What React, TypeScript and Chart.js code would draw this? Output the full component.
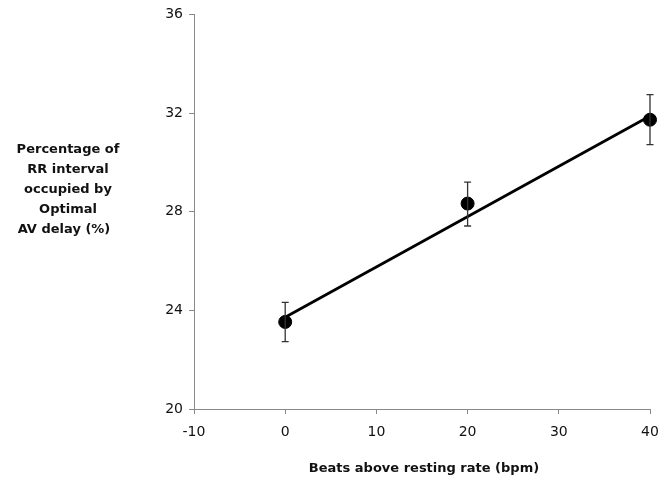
import React, { useEffect, useRef } from "react";
import { Chart, registerables } from "chart.js";

Chart.register(...registerables);

// Data
const beatsAbove = [0, 20, 40];
const pctMeans = [23.53, 28.33, 31.73];
const errLow = [22.73, 27.42, 30.72];
const errHigh = [24.32, 29.2, 32.75];
const trendX = [0, 40];
const trendY = [23.72, 31.88];

const xTicksMin = -10;
const xTicksMax = 40;
const yTicksMin = 20;
const yTicksMax = 36;

const yTitleLines = ["Percentage of", "RR interval", "occupied by", "Optimal", "AV delay (%)"];
const xTitle = "Beats above resting rate (bpm)";

const FONT = "'DejaVu Sans', Verdana, sans-serif";

export default function App() {
  const ref = useRef<HTMLCanvasElement | null>(null);

  useEffect(() => {
    if (!ref.current) return;

    const errorBars = {
      id: "errorBars",
      afterDatasetsDraw(chart: any) {
        const { ctx, scales } = chart;
        const xs = scales.x;
        const ys = scales.y;
        ctx.save();
        ctx.strokeStyle = "#333";
        ctx.lineWidth = 1.3;
        beatsAbove.forEach((xv, i) => {
          const px = xs.getPixelForValue(xv);
          const top = ys.getPixelForValue(errHigh[i]);
          const bot = ys.getPixelForValue(errLow[i]);
          ctx.beginPath();
          ctx.moveTo(px, top);
          ctx.lineTo(px, bot);
          ctx.moveTo(px - 3.5, top);
          ctx.lineTo(px + 3.5, top);
          ctx.moveTo(px - 3.5, bot);
          ctx.lineTo(px + 3.5, bot);
          ctx.stroke();
        });
        ctx.restore();
      },
    };

    const titles = {
      id: "titles",
      afterDraw(chart: any) {
        const { ctx, chartArea } = chart;
        ctx.save();
        ctx.fillStyle = "#111";
        ctx.font = `bold 13px ${FONT}`;
        ctx.textAlign = "center";
        ctx.textBaseline = "middle";
        const cx = [68, 68, 68, 68, 64];
        yTitleLines.forEach((line, i) => {
          ctx.fillText(line, cx[i], 150 + i * 20);
        });
        ctx.fillText(xTitle, (chartArea.left + chartArea.right) / 2 + 2, 469);
        ctx.restore();
      },
    };

    const chart = new Chart(ref.current, {
      type: "scatter",
      data: {
        datasets: [
          {
            type: "scatter",
            label: "Mean",
            data: beatsAbove.map((x, i) => ({ x, y: pctMeans[i] })),
            backgroundColor: "#000",
            borderColor: "#000",
            pointRadius: 6.5,
            clip: false,
            order: 0,
          } as any,
          {
            type: "line",
            label: "Trend",
            data: trendX.map((x, i) => ({ x, y: trendY[i] })),
            borderColor: "#000",
            borderWidth: 2.8,
            pointRadius: 0,
            fill: false,
            clip: false,
            order: 1,
          } as any,
        ],
      },
      options: {
        responsive: false,
        animation: false,
        layout: { padding: { top: 14, right: 20, left: 0, bottom: 0 } },
        plugins: {
          legend: { display: false },
          tooltip: { enabled: false },
        },
        scales: {
          x: {
            type: "linear",
            min: xTicksMin,
            max: xTicksMax,
            ticks: {
              stepSize: 10,
              color: "#111",
              font: { family: FONT, size: 14 },
              padding: 10,
            },
            grid: {
              drawOnChartArea: false,
              drawTicks: true,
              tickLength: 5,
              color: "#888",
            },
            border: { display: true, color: "#888", width: 1 },
            afterFit(scale: any) {
              scale.height = 74;
            },
          },
          y: {
            type: "linear",
            min: yTicksMin,
            max: yTicksMax,
            ticks: {
              stepSize: 4,
              color: "#111",
              font: { family: FONT, size: 14 },
              padding: 6,
            },
            grid: {
              drawOnChartArea: false,
              drawTicks: true,
              tickLength: 5,
              color: "#888",
            },
            border: { display: true, color: "#888", width: 1 },
            afterFit(scale: any) {
              scale.width = 194;
            },
          },
        },
      },
      plugins: [errorBars, titles],
    });

    return () => chart.destroy();
  }, []);

  return (
    <canvas
      ref={ref}
      width={670}
      height={483}
      style={{ position: "absolute", left: 0, top: 0, width: 670, height: 483 }}
    />
  );
}
